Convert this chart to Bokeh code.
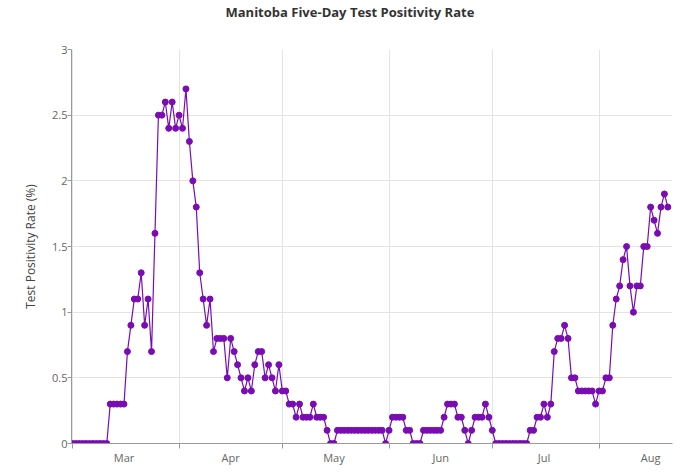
import pandas as pd
from bokeh.plotting import figure
from bokeh.models import Range1d, FixedTicker, DatetimeTickFormatter, ColumnDataSource, Title
from bokeh.embed import file_html
from bokeh.resources import INLINE

# Five-day test positivity rate (%), daily from 2020-03-01
positivity = [
    0, 0, 0, 0, 0, 0, 0, 0, 0, 0, 0,          # Mar 1-11
    0.3, 0.3, 0.3, 0.3, 0.3,                  # Mar 12-16
    0.7, 0.9, 1.1, 1.1, 1.3, 0.9, 1.1, 0.7, 1.6,
    2.5, 2.5, 2.6, 2.4, 2.6, 2.4,             # Mar 26-31
    2.5, 2.4, 2.7, 2.3, 2.0, 1.8, 1.3, 1.1, 0.9, 1.1,
    0.7, 0.8, 0.8, 0.8, 0.5, 0.8, 0.7, 0.6, 0.5, 0.4,
    0.5, 0.4, 0.6, 0.7, 0.7, 0.5, 0.6, 0.5, 0.4, 0.6,  # Apr 21-30
    0.4, 0.4, 0.3, 0.3, 0.2, 0.3, 0.2, 0.2, 0.2, 0.3,
    0.2, 0.2, 0.2, 0.1, 0, 0,
    0.1, 0.1, 0.1, 0.1, 0.1, 0.1, 0.1, 0.1, 0.1, 0.1, 0.1, 0.1, 0.1, 0.1,
    0,                                        # May 31
    0.1, 0.2, 0.2, 0.2, 0.2, 0.1, 0.1, 0, 0, 0,
    0.1, 0.1, 0.1, 0.1, 0.1, 0.1, 0.2, 0.3, 0.3, 0.3,
    0.2, 0.2, 0.1, 0, 0.1, 0.2, 0.2, 0.2, 0.3, 0.2,  # Jun 21-30
    0.1, 0, 0, 0, 0, 0, 0, 0, 0, 0, 0,
    0.1, 0.1, 0.2, 0.2, 0.3, 0.2, 0.3, 0.7, 0.8, 0.8,
    0.9, 0.8, 0.5, 0.5, 0.4, 0.4, 0.4, 0.4, 0.4, 0.3,  # Jul 22-31
    0.4, 0.4, 0.5, 0.5, 0.9, 1.1, 1.2, 1.4, 1.5, 1.2,
    1.0, 1.2, 1.2, 1.5, 1.5, 1.8, 1.7, 1.6, 1.8, 1.9, 1.8,  # Aug 11-21
]
dates = pd.date_range("2020-03-01", periods=len(positivity), freq="D")

month_starts = pd.to_datetime(["2020-03-01", "2020-04-01", "2020-05-01",
                               "2020-06-01", "2020-07-01", "2020-08-01"])
month_label_days = pd.to_datetime(["2020-03-16", "2020-04-16", "2020-05-16",
                                   "2020-06-16", "2020-07-16", "2020-08-16"])
y_ticks = [0, 0.5, 1, 1.5, 2, 2.5, 3]


def ms(ts):
    return [float(t.value // 10**6) for t in ts]


src = ColumnDataSource(dict(date=dates, rate=positivity))

FONT = "Open Sans"
LINE = "#7a0cb3"

p = figure(
    x_axis_type="datetime",
    frame_width=601, frame_height=394,
    min_border_left=71, min_border_top=49, min_border_right=12, min_border_bottom=20,
    output_backend="svg", toolbar_location=None,
    x_range=Range1d(pd.Timestamp("2020-02-29 18:00"), pd.Timestamp("2020-08-22 08:24")),
    y_range=Range1d(0, 3),
)
p.outline_line_color = None
p.background_fill_color = "white"

# spacer between title and plot frame (added first -> nearest the frame)
spacer = Title(text=" ", text_font=FONT, text_font_size="10px",
               text_color="white", standoff=9)
p.add_layout(spacer, "above")

main_title = Title(
    text="Manitoba Five-Day Test Positivity Rate",
    text_font=FONT, text_font_size="13px", text_font_style="bold",
    text_color="#333333", align="left", offset=154,
    vertical_align="top", standoff=4,
)
p.add_layout(main_title, "above")

p.line("date", "rate", source=src, line_color=LINE, line_width=1.2)
p.scatter("date", "rate", source=src, size=6, fill_color=LINE, line_color=LINE)

# x axis: labels mid-month, ticks + grid at month starts
xa = p.xaxis[0]
xa.ticker = FixedTicker(ticks=ms(month_label_days), minor_ticks=ms(month_starts))
xa.formatter = DatetimeTickFormatter(days="%b", months="%b", years="%b")
xa.major_tick_line_color = None
xa.major_tick_out = 0
xa.major_tick_in = 0
xa.minor_tick_in = 0
xa.minor_tick_out = 5
xa.minor_tick_line_color = "#999999"
xa.axis_line_color = "#999999"
xa.major_label_standoff = 1
xa.major_label_text_font = FONT
xa.major_label_text_font_size = "11px"
xa.major_label_text_color = "#666666"

p.xgrid.ticker = FixedTicker(ticks=ms(month_starts))
p.xgrid.grid_line_color = "#e3e3e3"

ya = p.yaxis[0]
ya.ticker = FixedTicker(ticks=y_ticks)
ya.minor_tick_line_color = None
ya.major_tick_in = 0
ya.major_tick_out = 4
ya.major_tick_line_color = "#999999"
ya.axis_line_color = "#999999"
ya.major_label_standoff = 0
ya.major_label_text_font = FONT
ya.major_label_text_font_size = "11px"
ya.major_label_text_color = "#666666"
ya.axis_label = "Test Positivity Rate (%)"
ya.axis_label_text_font = FONT
ya.axis_label_text_font_size = "12px"
ya.axis_label_text_font_style = "normal"
ya.axis_label_text_color = "#444444"
ya.axis_label_standoff = 10

p.ygrid.grid_line_color = "#e3e3e3"

open("out.html", "w").write(file_html(p, INLINE))
